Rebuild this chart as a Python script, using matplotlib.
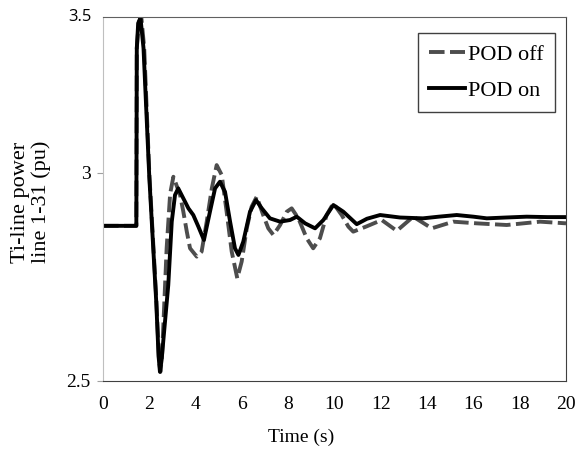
import matplotlib
matplotlib.use("Agg")
import matplotlib.pyplot as plt

# Tie-line power on line 1-31
t_off = [0, 1.44, 1.46, 1.55, 1.66, 1.78, 2.0, 2.3, 2.42, 2.48, 2.55, 2.75, 2.9, 3.04,
         3.33, 3.47, 3.62, 3.76, 4.05, 4.26, 4.48, 4.7, 4.91, 5.13, 5.34, 5.56, 5.8,
         5.99, 6.21, 6.42, 6.64, 6.92, 7.14, 7.36, 7.65, 7.94, 8.15, 8.44, 8.8, 9.08,
         9.37, 9.66, 9.95, 10.31, 10.6, 10.81, 11.4, 12.04, 12.69, 13.4, 14.2, 15.13,
         16.14, 17.44, 18.88, 20]
p_off = [2.873, 2.873, 3.30, 3.365, 3.372, 3.30, 3.00, 2.70, 2.55, 2.522, 2.56, 2.82,
         2.95, 2.991, 2.947, 2.907, 2.859, 2.819, 2.799, 2.811, 2.883, 2.963, 3.019,
         2.995, 2.907, 2.811, 2.747, 2.787, 2.867, 2.919, 2.943, 2.899, 2.867, 2.851,
         2.875, 2.907, 2.915, 2.891, 2.843, 2.819, 2.843, 2.899, 2.927, 2.899, 2.871,
         2.859, 2.872, 2.887, 2.861, 2.895, 2.867, 2.883, 2.879, 2.875, 2.883, 2.879]

t_on = [0, 1.44, 1.46, 1.52, 1.62, 1.75, 2.0, 2.3, 2.4, 2.46, 2.53, 2.82, 2.97, 3.11,
        3.25, 3.47, 3.69, 3.9, 4.12, 4.36, 4.62, 4.84, 5.05, 5.27, 5.49, 5.7, 5.85,
        6.06, 6.35, 6.61, 6.86, 7.21, 7.65, 8.08, 8.37, 8.73, 9.16, 9.52, 9.95, 10.38,
        10.96, 11.4, 11.97, 12.83, 13.82, 14.5, 15.28, 16.0, 16.58, 17.4, 18.3, 19.2, 20]
p_on = [2.873, 2.873, 3.30, 3.36, 3.372, 3.30, 2.99, 2.69, 2.56, 2.522, 2.55, 2.731,
        2.883, 2.947, 2.963, 2.939, 2.915, 2.899, 2.871, 2.839, 2.907, 2.963, 2.979,
        2.955, 2.883, 2.819, 2.803, 2.835, 2.907, 2.935, 2.915, 2.891, 2.883, 2.887,
        2.895, 2.879, 2.867, 2.887, 2.923, 2.907, 2.877, 2.89, 2.899, 2.893, 2.891,
        2.895, 2.899, 2.895, 2.891, 2.893, 2.895, 2.894, 2.894]

x_ticks = list(range(0, 21, 2))
y_ticks = [2.5, 3]
y_tick_labels = ['2.5', '3']
top_label = '3.5'

plt.rcParams['font.family'] = ['Liberation Serif', 'DejaVu Serif']

fig = plt.figure(figsize=(5.8, 4.5), dpi=100)
ax = fig.add_axes([103 / 580, 1 - 381 / 450, 463 / 580, 364 / 450])

ax.plot(t_off, p_off, color='#4d4d4d', lw=2.8, dashes=(4, 1.4), label='POD off',
        solid_joinstyle='round', dash_joinstyle='round')
ax.plot(t_on, p_on, color='black', lw=2.8, label='POD on', solid_joinstyle='round')

ax.set_xlim(0, 20)
ax.set_ylim(2.5, 3.375)
ax.set_xticks(x_ticks)
ax.set_yticks(y_ticks)
ax.set_yticklabels(y_tick_labels)
ax.tick_params(axis='x', length=0, pad=11, labelsize=14)
ax.tick_params(axis='y', length=4, color='#a0a0a0', pad=5, labelsize=14)

# the top label is drawn in a sans font in the original
ax.text(-0.024, 1.0, top_label, transform=ax.transAxes, ha='right', va='center',
        fontsize=12, family='Open Sans')

ax.spines['left'].set_color('#bfbfbf')
ax.spines['bottom'].set_color('#404040')
ax.spines['top'].set_color('#606060')
ax.spines['right'].set_color('#404040')

leg = ax.legend(loc='upper right', bbox_to_anchor=(0.976, 0.956), borderaxespad=0,
                fontsize=16, handlelength=1.6, handletextpad=0.15, borderpad=0.5,
                labelspacing=0.7, fancybox=False, framealpha=1, edgecolor='#404040')
leg.get_frame().set_linewidth(1.0)

fig.text(301 / 580, 1 - 437 / 450, 'Time (s)', ha='center', va='center', fontsize=14)
fig.text(31 / 580, 1 - 202 / 450, 'Ti-line power\nline 1-31 (pu)', ha='center',
         va='center', rotation=90, fontsize=16, multialignment='center', linespacing=1.15)

fig.savefig('out.png', dpi=100)
